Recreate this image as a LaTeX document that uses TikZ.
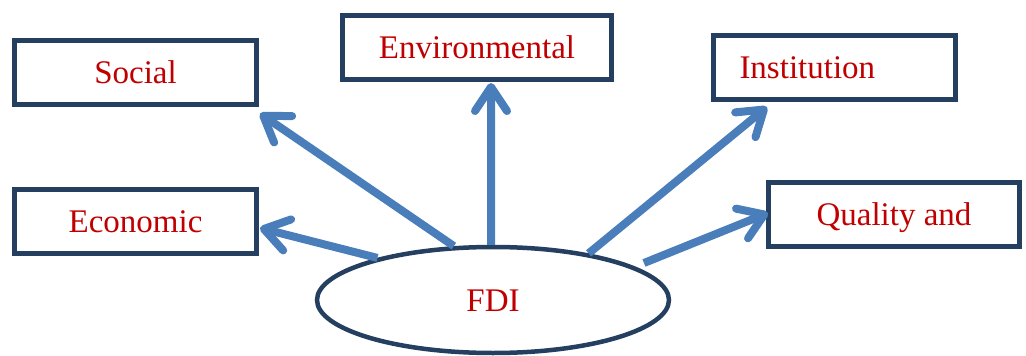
\documentclass[tikz,border=0pt]{standalone}
\usepackage{fontspec}
\setmainfont{Liberation Serif}
\usepackage{xcolor}
\usetikzlibrary{arrows.meta,shapes.geometric}

\definecolor{boxblue}{HTML}{243F60}
\definecolor{arrowblue}{HTML}{4A7EBB}
\definecolor{textred}{HTML}{C00000}

\begin{document}
\begin{tikzpicture}[x=1pt, y=-1pt,
    factor/.style={draw=boxblue, line width=5pt, minimum width=242pt, minimum height=64pt,
        inner sep=0pt, text=textred, font=\fontsize{33}{36}\selectfont,
        text height=22pt, text depth=0pt},
    core/.style={ellipse, draw=boxblue, line width=4.5pt, minimum width=352pt, minimum height=106pt,
        inner sep=0pt, text=textred, font=\fontsize{33}{36}\selectfont,
        text height=22pt, text depth=0pt},
    flow/.style={arrowblue, line width=8pt, -{Straight Barb[round, length=24pt, width=32pt]}}]
    \useasboundingbox (0,0) rectangle (1026,356);

    % Boxes
    \node[factor] (social) at (135.5,72) {Social};
    \node[factor] (economic) at (135.5,221.5) {Economic};
    \node[factor, minimum width=269pt] (environ) at (477,47.5) {Environmental};
    \node[factor, text width=190pt, align=left, inner xsep=26pt, minimum width=242pt] (institution) at (834.5,67.5) {Institution};
    \node[factor, minimum width=251pt] (quality) at (894,214) {Quality and};

    % FDI
    \node[core] (fdi) at (493,300) {FDI};

    % Arrows
    \draw[flow] (fdi.160) -- ([shift={(1,6.5)}]economic.east);
    \draw[flow] (fdi.126) -- ([shift={(1,7)}]social.south east);
    \draw[flow] (fdi.92) -- ([shift={(14,1)}]environ.south);
    \draw[flow] (fdi.26) -- ([shift={(56,5)}]institution.south west);
    \draw[flow] ([shift={(8,-4)}]fdi.13) -- ([shift={(2,-1)}]quality.west);
\end{tikzpicture}
\end{document}
